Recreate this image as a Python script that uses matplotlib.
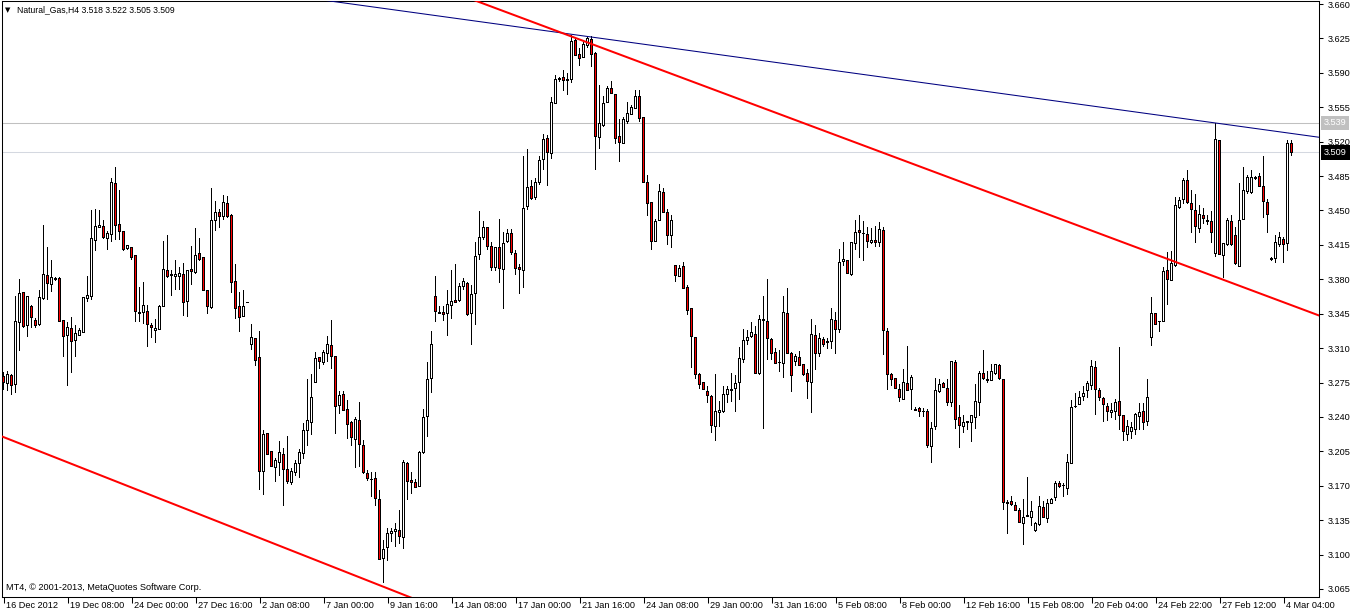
import matplotlib
matplotlib.use("Agg")
import matplotlib.pyplot as plt

# ---------------- data (H4 bars, prices) ----------------
opens = [3.281,3.274,3.282,3.273,3.336,3.367,3.333,3.352,3.338,3.334,3.360,3.384,3.375,3.380,3.381,3.338,3.323,3.330,3.318,3.323,
3.326,3.360,3.362,3.419,3.433,3.434,3.422,3.426,3.477,3.436,3.429,3.411,3.412,3.404,3.345,3.346,3.347,3.333,3.328,3.329,
3.352,3.389,3.384,3.383,3.383,3.385,3.357,3.390,3.387,3.406,3.402,3.369,3.351,3.440,3.448,3.444,3.457,3.445,3.378,3.352,
3.342,3.356,3.314,3.320,3.300,3.184,3.223,3.205,3.189,3.194,3.202,3.186,3.173,3.183,3.193,3.203,3.226,3.234,3.275,3.300,
3.295,3.305,3.313,3.301,3.252,3.263,3.248,3.234,3.217,3.236,3.211,3.182,3.176,3.177,3.156,3.096,3.107,3.121,3.123,3.124,
3.117,3.193,3.175,3.173,3.169,3.204,3.240,3.279,3.362,3.346,3.346,3.345,3.353,3.358,3.358,3.373,3.376,3.345,3.366,3.405,
3.423,3.433,3.413,3.392,3.412,3.390,3.418,3.427,3.406,3.392,3.389,3.454,3.474,3.463,3.478,3.502,3.523,3.508,3.559,3.583,
3.585,3.583,3.583,3.623,3.609,3.606,3.618,3.624,3.610,3.524,3.536,3.560,3.574,3.568,3.525,3.518,3.541,3.548,3.554,3.566,
3.545,3.478,3.458,3.418,3.440,3.468,3.448,3.425,3.394,3.383,3.393,3.372,3.350,3.321,3.283,3.275,3.266,3.261,3.230,3.244,
3.245,3.263,3.267,3.269,3.275,3.298,3.318,3.322,3.324,3.284,3.338,3.337,3.319,3.306,3.295,3.294,3.345,3.305,3.296,3.300,
3.293,3.284,3.275,3.323,3.304,3.319,3.317,3.317,3.338,3.329,3.398,3.399,3.385,3.416,3.430,3.427,3.426,3.417,3.419,3.417,
3.430,3.327,3.283,3.279,3.268,3.258,3.274,3.268,3.247,3.249,3.245,3.246,3.210,3.230,3.266,3.274,3.269,3.255,3.295,3.239,
3.230,3.234,3.234,3.239,3.255,3.284,3.278,3.277,3.284,3.292,3.278,3.153,3.154,3.150,3.145,3.132,3.139,3.138,3.124,3.131,
3.148,3.137,3.152,3.158,3.172,3.170,3.167,3.193,3.251,3.253,3.261,3.267,3.272,3.290,3.267,3.259,3.251,3.244,3.245,3.256,
3.241,3.222,3.225,3.227,3.240,3.245,3.235,3.321,3.345,3.337,3.337,3.389,3.379,3.394,3.453,3.461,3.480,3.457,3.450,3.432,
3.445,3.440,3.439,3.406,3.521,3.404,3.415,3.439,3.425,3.393,3.441,3.469,3.468,3.483,3.485,3.474,3.458,3.401,3.401,3.415,
3.420,3.416,3.518]
highs = [3.286,3.287,3.284,3.363,3.380,3.367,3.362,3.354,3.341,3.369,3.435,3.413,3.400,3.382,3.382,3.338,3.337,3.342,3.334,3.330,
3.362,3.383,3.450,3.452,3.450,3.440,3.429,3.483,3.494,3.471,3.429,3.415,3.413,3.404,3.372,3.377,3.354,3.336,3.340,3.354,
3.419,3.425,3.389,3.400,3.392,3.397,3.389,3.414,3.432,3.422,3.402,3.369,3.473,3.460,3.452,3.466,3.465,3.446,3.396,3.367,
3.369,3.356,3.335,3.320,3.327,3.227,3.223,3.205,3.198,3.216,3.208,3.221,3.188,3.196,3.207,3.234,3.279,3.284,3.306,3.301,
3.308,3.322,3.339,3.301,3.266,3.266,3.257,3.236,3.240,3.255,3.217,3.186,3.184,3.184,3.166,3.115,3.127,3.127,3.132,3.145,
3.196,3.194,3.184,3.177,3.205,3.248,3.296,3.327,3.383,3.353,3.353,3.369,3.389,3.396,3.376,3.381,3.377,3.374,3.418,3.449,
3.439,3.433,3.418,3.413,3.441,3.428,3.431,3.431,3.410,3.396,3.505,3.513,3.481,3.483,3.505,3.528,3.527,3.565,3.588,3.586,
3.593,3.590,3.629,3.625,3.615,3.621,3.627,3.627,3.611,3.578,3.566,3.577,3.582,3.569,3.543,3.545,3.560,3.557,3.573,3.573,
3.545,3.486,3.459,3.441,3.477,3.473,3.452,3.445,3.395,3.395,3.398,3.374,3.350,3.321,3.285,3.276,3.271,3.262,3.284,3.256,
3.271,3.271,3.285,3.283,3.311,3.329,3.328,3.337,3.332,3.344,3.363,3.380,3.320,3.310,3.308,3.363,3.371,3.306,3.304,3.307,
3.294,3.289,3.340,3.333,3.325,3.321,3.320,3.351,3.347,3.411,3.418,3.400,3.418,3.440,3.445,3.439,3.433,3.432,3.434,3.438,
3.433,3.330,3.285,3.280,3.273,3.289,3.312,3.283,3.250,3.250,3.249,3.248,3.235,3.280,3.279,3.276,3.279,3.297,3.298,3.252,
3.242,3.235,3.242,3.273,3.287,3.308,3.287,3.294,3.294,3.294,3.279,3.155,3.160,3.153,3.147,3.156,3.179,3.154,3.133,3.160,
3.154,3.156,3.158,3.175,3.175,3.173,3.202,3.257,3.264,3.266,3.271,3.277,3.298,3.297,3.269,3.260,3.254,3.254,3.258,3.311,
3.242,3.237,3.235,3.244,3.254,3.254,3.279,3.362,3.345,3.337,3.393,3.408,3.409,3.464,3.464,3.483,3.491,3.471,3.467,3.456,
3.453,3.445,3.449,3.539,3.522,3.417,3.442,3.445,3.433,3.478,3.494,3.486,3.491,3.485,3.488,3.505,3.462,3.403,3.425,3.428,
3.423,3.522,3.522]
lows = [3.267,3.266,3.262,3.264,3.307,3.330,3.321,3.330,3.330,3.332,3.359,3.359,3.367,3.378,3.337,3.301,3.271,3.285,3.301,3.322,
3.326,3.357,3.359,3.409,3.432,3.421,3.410,3.418,3.420,3.420,3.409,3.410,3.400,3.337,3.337,3.335,3.311,3.320,3.315,3.329,
3.352,3.381,3.363,3.369,3.369,3.343,3.342,3.374,3.385,3.399,3.369,3.345,3.350,3.429,3.432,3.440,3.442,3.366,3.340,3.326,
3.342,3.356,3.308,3.292,3.166,3.161,3.201,3.190,3.174,3.180,3.149,3.172,3.171,3.180,3.178,3.197,3.210,3.222,3.275,3.289,
3.293,3.296,3.289,3.223,3.243,3.246,3.218,3.210,3.188,3.189,3.182,3.175,3.159,3.149,3.095,3.071,3.093,3.113,3.108,3.111,
3.106,3.155,3.162,3.168,3.169,3.202,3.220,3.264,3.337,3.345,3.338,3.322,3.340,3.356,3.357,3.369,3.343,3.313,3.333,3.400,
3.420,3.410,3.388,3.388,3.376,3.350,3.417,3.405,3.384,3.365,3.371,3.450,3.461,3.461,3.476,3.491,3.475,3.502,3.559,3.581,
3.572,3.567,3.580,3.607,3.597,3.606,3.615,3.596,3.491,3.513,3.535,3.559,3.568,3.518,3.499,3.518,3.538,3.547,3.553,3.540,
3.478,3.444,3.410,3.418,3.439,3.447,3.415,3.412,3.377,3.383,3.370,3.344,3.290,3.279,3.268,3.267,3.254,3.224,3.216,3.230,
3.244,3.254,3.255,3.245,3.257,3.295,3.313,3.320,3.284,3.283,3.228,3.298,3.298,3.294,3.286,3.280,3.304,3.265,3.292,3.292,
3.282,3.258,3.244,3.288,3.301,3.311,3.309,3.309,3.304,3.325,3.394,3.385,3.383,3.410,3.402,3.399,3.412,3.416,3.413,3.413,
3.303,3.267,3.271,3.268,3.255,3.257,3.266,3.247,3.246,3.240,3.240,3.208,3.193,3.227,3.264,3.270,3.251,3.250,3.228,3.208,
3.224,3.227,3.214,3.228,3.241,3.278,3.274,3.277,3.283,3.278,3.145,3.121,3.149,3.144,3.132,3.110,3.138,3.129,3.123,3.129,
3.137,3.132,3.151,3.154,3.168,3.159,3.161,3.192,3.249,3.252,3.256,3.259,3.267,3.242,3.256,3.235,3.236,3.239,3.237,3.227,
3.216,3.216,3.218,3.222,3.227,3.227,3.231,3.312,3.333,3.326,3.337,3.354,3.379,3.393,3.452,3.457,3.457,3.427,3.417,3.427,
3.436,3.435,3.417,3.403,3.405,3.381,3.414,3.414,3.395,3.393,3.440,3.467,3.467,3.481,3.474,3.442,3.427,3.399,3.397,3.413,
3.397,3.409,3.505]
closes = [3.275,3.283,3.272,3.337,3.366,3.332,3.362,3.341,3.333,3.361,3.385,3.376,3.382,3.381,3.337,3.322,3.331,3.317,3.325,3.328,
3.361,3.364,3.421,3.434,3.435,3.423,3.427,3.478,3.435,3.429,3.410,3.414,3.402,3.347,3.346,3.353,3.334,3.331,3.330,3.352,
3.390,3.383,3.385,3.385,3.386,3.356,3.389,3.388,3.404,3.400,3.369,3.352,3.440,3.448,3.444,3.458,3.444,3.377,3.350,3.341,
3.352,3.356,3.321,3.297,3.184,3.222,3.202,3.190,3.196,3.204,3.187,3.174,3.184,3.193,3.204,3.226,3.236,3.260,3.299,3.296,
3.306,3.314,3.301,3.251,3.262,3.247,3.232,3.219,3.237,3.212,3.183,3.177,3.176,3.157,3.095,3.105,3.121,3.123,3.125,3.118,
3.194,3.174,3.173,3.168,3.204,3.239,3.278,3.314,3.347,3.345,3.344,3.354,3.357,3.356,3.373,3.378,3.344,3.365,3.403,3.423,
3.433,3.413,3.392,3.412,3.391,3.416,3.427,3.407,3.391,3.390,3.452,3.473,3.462,3.478,3.501,3.522,3.509,3.560,3.583,3.584,
3.582,3.582,3.622,3.608,3.605,3.619,3.625,3.609,3.525,3.538,3.559,3.574,3.569,3.523,3.519,3.543,3.549,3.555,3.566,3.544,
3.478,3.457,3.418,3.439,3.469,3.448,3.425,3.440,3.384,3.391,3.371,3.348,3.322,3.283,3.273,3.268,3.262,3.231,3.246,3.247,
3.263,3.268,3.268,3.274,3.299,3.318,3.321,3.326,3.284,3.339,3.339,3.320,3.304,3.294,3.295,3.346,3.304,3.282,3.301,3.292,
3.283,3.276,3.324,3.304,3.320,3.314,3.316,3.339,3.329,3.397,3.400,3.386,3.417,3.428,3.428,3.427,3.418,3.419,3.417,3.431,
3.328,3.283,3.278,3.269,3.260,3.275,3.267,3.280,3.248,3.246,3.245,3.211,3.228,3.267,3.273,3.270,3.255,3.296,3.237,3.231,
3.234,3.235,3.241,3.256,3.284,3.279,3.277,3.286,3.293,3.279,3.153,3.152,3.151,3.145,3.133,3.138,3.140,3.144,3.132,3.149,
3.138,3.152,3.156,3.172,3.169,3.170,3.194,3.250,3.251,3.260,3.264,3.274,3.291,3.268,3.260,3.253,3.245,3.247,3.255,3.241,
3.225,3.230,3.229,3.242,3.244,3.234,3.260,3.345,3.334,3.337,3.388,3.380,3.396,3.455,3.460,3.481,3.458,3.451,3.434,3.446,
3.442,3.439,3.428,3.522,3.405,3.416,3.440,3.415,3.396,3.440,3.470,3.484,3.484,3.484,3.474,3.459,3.446,3.400,3.417,3.423,
3.415,3.518,3.509]

price_ticks = [3.065, 3.100, 3.135, 3.170, 3.205, 3.240, 3.275, 3.310, 3.345, 3.380,
               3.415, 3.450, 3.485, 3.520, 3.555, 3.590, 3.625, 3.660]
date_labels = ["16 Dec 2012", "19 Dec 08:00", "24 Dec 00:00", "27 Dec 16:00", "2 Jan 08:00",
               "7 Jan 00:00", "9 Jan 16:00", "14 Jan 08:00", "17 Jan 00:00", "21 Jan 16:00",
               "24 Jan 08:00", "29 Jan 00:00", "31 Jan 16:00", "5 Feb 08:00", "8 Feb 00:00",
               "12 Feb 16:00", "15 Feb 08:00", "20 Feb 04:00", "24 Feb 22:00", "27 Feb 12:00",
               "4 Mar 04:00"]
date_bar_step = 16

# trend lines: two anchor points (bar index, price)
blue_trend = [(146, 3.627), (303, 3.539)]
red_trend_upper = [(142, 3.627), (302, 3.384)]
red_trend_lower = [(0, 3.2195), (97, 3.064)]
level_high = 3.539
level_bid = 3.509
title = "Natural_Gas,H4 3.518 3.522 3.505 3.509"
copyright_text = "MT4, \u00a9 2001-2013, MetaQuotes Software Corp."

# ---------------- figure ----------------
W, H = 1358, 614
FONT = "Liberation Sans"
FS = 6.6
fig = plt.figure(figsize=(W / 100, H / 100), dpi=100)
fig.patch.set_facecolor("white")
ax_l, ax_r, ax_t, ax_b = 2, 1319, 1, 597
ax = fig.add_axes([ax_l / W, (H - ax_b) / H, (ax_r - ax_l) / W, (ax_b - ax_t) / H])
ax.set_facecolor("white")

n = len(opens)
px_per_bar = 4.0
x_first = 3.5 - ax_l            # pixel centre of the first bar from the axes edge
xmin = -x_first / px_per_bar
xmax = xmin + (ax_r - ax_l) / px_per_bar
ax.set_xlim(xmin, xmax)
ymax, ymin = 3.6631, 3.0568
ax.set_ylim(ymin, ymax)
dx = 1.0 / px_per_bar                       # one pixel in bar units
dy = (ymax - ymin) / (ax_b - ax_t)          # one pixel in price units

for i in range(n):
    o, h, l, c = opens[i], highs[i], lows[i], closes[i]
    ax.add_patch(plt.Rectangle((i - 0.5 * dx, l), dx, max(h - l, dy), facecolor="black",
                               lw=0, zorder=3, antialiased=False))
    top, bot = max(o, c), min(o, c)
    ax.add_patch(plt.Rectangle((i - 1.5 * dx, bot - 0.5 * dy), 3 * dx, (top - bot) + dy,
                               facecolor="black", lw=0, zorder=4, antialiased=False))
    if top - bot > 1.2 * dy:
        face = "white" if c > o else "#ff0000"
        ax.add_patch(plt.Rectangle((i - 0.5 * dx, bot + 0.5 * dy), dx, (top - bot) - dy,
                                   facecolor=face, lw=0, zorder=5, antialiased=False))

def trend(anchors, color, width):
    (x0, y0), (x1, y1) = anchors
    k = (y1 - y0) / (x1 - x0)
    xs = [xmin - 5, xmax + 5]
    ys = [y0 + k * (x - x0) for x in xs]
    ax.plot(xs, ys, color=color, lw=width, zorder=6, solid_capstyle="butt")

ax.axhline(level_high, color="#c0c0c0", lw=0.75, zorder=1)
ax.axhline(level_bid, color="#d4d8e0", lw=0.75, zorder=1)
trend(blue_trend, "#000080", 0.75)
trend(red_trend_upper, "#ff0000", 1.45)
trend(red_trend_lower, "#ff0000", 1.45)

for s in ax.spines.values():
    s.set_color("black")
    s.set_linewidth(0.75)

# price axis on the right
ax.yaxis.tick_right()
ax.set_yticks(price_ticks)
ax.set_yticklabels(["%.3f" % p for p in price_ticks], fontsize=FS, family=FONT)
ax.tick_params(axis="y", direction="out", length=3, width=0.75, pad=3, colors="black")

for val, fc in [(level_high, "#c0c0c0"), (level_bid, "black")]:
    ax.annotate("%.3f" % val, xy=(1, val), xycoords=("axes fraction", "data"),
                xytext=(5, 0), textcoords="offset pixels", ha="left", va="center",
                fontsize=FS, family=FONT, color="white", zorder=10, annotation_clip=False,
                bbox=dict(boxstyle="square,pad=0.3", fc=fc, ec="none"))

# date axis
xt = [k * date_bar_step for k in range(len(date_labels))]
ax.set_xticks(xt)
ax.set_xticklabels([])
ax.tick_params(axis="x", direction="out", length=4, width=0.75, colors="black")
for pos, lab in zip(xt, date_labels):
    ax.annotate(lab, xy=(pos, 0), xycoords=("data", "axes fraction"),
                xytext=(2, -9), textcoords="offset pixels", ha="left", va="center",
                fontsize=FS, family=FONT, color="black", annotation_clip=False)

# header and footer text
fig.text(5 / W, 1 - 10 / H, "\u25bc", fontsize=5, family="DejaVu Sans", va="center", ha="left")
fig.text(17 / W, 1 - 10 / H, title, fontsize=6.2, family=FONT, va="center", ha="left")
fig.text(6 / W, 1 - 588 / H, copyright_text, fontsize=FS, family=FONT, va="center", ha="left")

fig.savefig("out.png", dpi=100, facecolor="white")
